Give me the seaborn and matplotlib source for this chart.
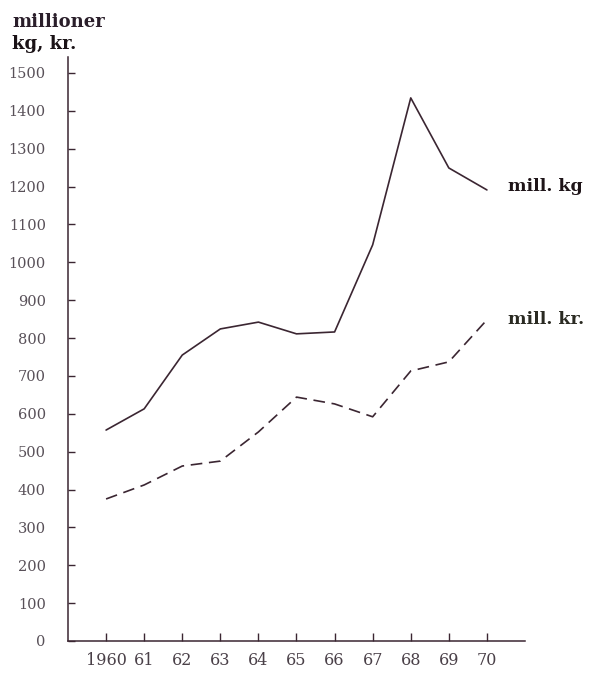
import pandas as pd
import matplotlib
matplotlib.use("Agg")
import matplotlib.pyplot as plt
import seaborn as sns

# data
years = [1960, 1961, 1962, 1963, 1964, 1965, 1966, 1967, 1968, 1969, 1970]
year_labels = ["1960", "61", "62", "63", "64", "65", "66", "67", "68", "69", "70"]
mill_kg = [557, 613, 755, 824, 842, 811, 816, 1046, 1434, 1249, 1191]
mill_kr = [375, 412, 462, 475, 552, 644, 626, 592, 713, 737, 848]
y_ticks = list(range(0, 1501, 100))

sns.set_style("white")
plt.rcParams["font.family"] = ["DejaVu Serif", "Liberation Serif"]

line_col = "#3b2632"
text_col = "#4a4048"

df = pd.DataFrame({"year": years, "kg": mill_kg, "kr": mill_kr})

fig = plt.figure(figsize=(5.92, 6.76), dpi=100)
ax = fig.add_axes([68 / 592, 35 / 676, 457 / 592, 584 / 676])

sns.lineplot(data=df, x="year", y="kg", ax=ax, color=line_col, linewidth=1.2)
sns.lineplot(data=df, x="year", y="kr", ax=ax, color=line_col, linewidth=1.2,
             linestyle=(0, (7, 4)))

ax.set_xlim(1959, 1971)
ax.set_ylim(0, 1542)
ax.set_xticks(years)
ax.set_xticklabels(year_labels)
ax.set_yticks(y_ticks)
ax.set_yticklabels([str(t) for t in y_ticks])
ax.set_xlabel("")
ax.set_ylabel("")

for s in ["top", "right"]:
    ax.spines[s].set_visible(False)
for s in ["left", "bottom"]:
    ax.spines[s].set_color(line_col)
    ax.spines[s].set_linewidth(1.1)

ax.tick_params(axis="y", direction="in", length=5, width=1, color=line_col,
               labelsize=10.5, labelcolor="#585058", pad=16, left=True)
ax.tick_params(axis="x", direction="in", length=6, width=1, color=line_col,
               labelsize=11.5, labelcolor=text_col, pad=8, bottom=True)

# end-of-line labels
ax.text(1970.55, mill_kg[-1] + 8, "mill. kg", fontsize=12.5, fontweight="bold",
        color="#1e1418", va="center", ha="left")
ax.text(1970.55, mill_kr[-1], "mill. kr.", fontsize=12.5, fontweight="bold",
        color="#2a2a22", va="center", ha="left")

fig.text(12 / 592, 1 - 22 / 676, "millioner", fontsize=13, fontweight="bold",
         color="#2a1e2a", va="center", ha="left")
fig.text(12 / 592, 1 - 44 / 676, "kg, kr.", fontsize=13, fontweight="bold",
         color="#1a1216", va="center", ha="left")

fig.savefig("out.png", dpi=100)
